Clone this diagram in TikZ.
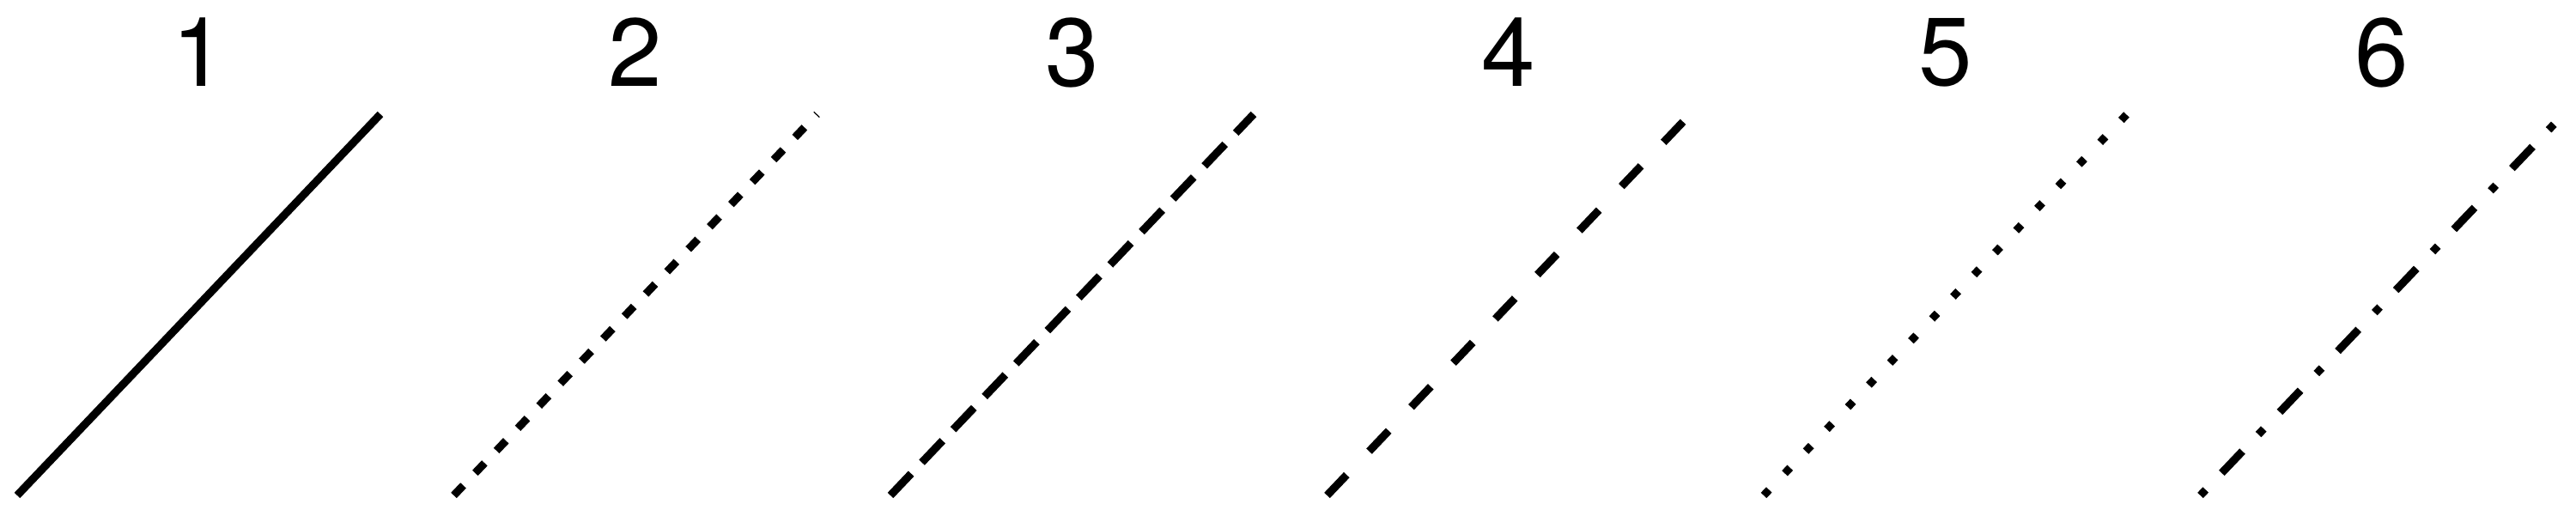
\documentclass[tikz,border=0pt]{standalone}
\usepackage{fontspec}
\setmainfont{TeX Gyre Heros}

\begin{document}
\begin{tikzpicture}[every node/.style={font=\fontsize{32}{38}\selectfont}, line width = 2.6pt,
    lsolid/.style={solid},
    lfine/.style={dash pattern=on 0.16cm off 0.20cm},
    lmedium/.style={dash pattern=on 0.35cm off 0.18cm},
    llong/.style={dash pattern=on 0.33cm off 0.38cm},
    ldots/.style={dash pattern=on 0.09cm off 0.265cm},
    ldashdot/.style={dash pattern=on 0.09cm off 0.27cm on 0.35cm off 0.27cm}]

        \useasboundingbox (0, 0) rectangle (30, 6);

        \coordinate (s1) at (0.20, 0.23);
        \coordinate (e1) at (4.43, 4.67);
        \draw [lsolid] (s1) -- (e1);
        \node (n1) at (2.315, 5.39) [anchor = center] {1};

        \coordinate (s2) at (5.285, 0.23);
        \coordinate (e2) at (9.515, 4.67);
        \draw [lfine] (s2) -- (e2);
        \node (n2) at (7.40, 5.39) [anchor = center] {2};

        \coordinate (s3) at (10.37, 0.23);
        \coordinate (e3) at (14.60, 4.67);
        \draw [lmedium] (s3) -- (e3);
        \node (n3) at (12.485, 5.39) [anchor = center] {3};

        \coordinate (s4) at (15.455, 0.23);
        \coordinate (e4) at (19.685, 4.67);
        \draw [llong] (s4) -- (e4);
        \node (n4) at (17.57, 5.39) [anchor = center] {4};

        \coordinate (s5) at (20.54, 0.23);
        \coordinate (e5) at (24.77, 4.67);
        \draw [ldots] (s5) -- (e5);
        \node (n5) at (22.655, 5.39) [anchor = center] {5};

        \coordinate (s6) at (25.625, 0.23);
        \coordinate (e6) at (29.855, 4.67);
        \draw [ldashdot] (s6) -- (e6);
        \node (n6) at (27.74, 5.39) [anchor = center] {6};

    \end{tikzpicture}
\end{document}
